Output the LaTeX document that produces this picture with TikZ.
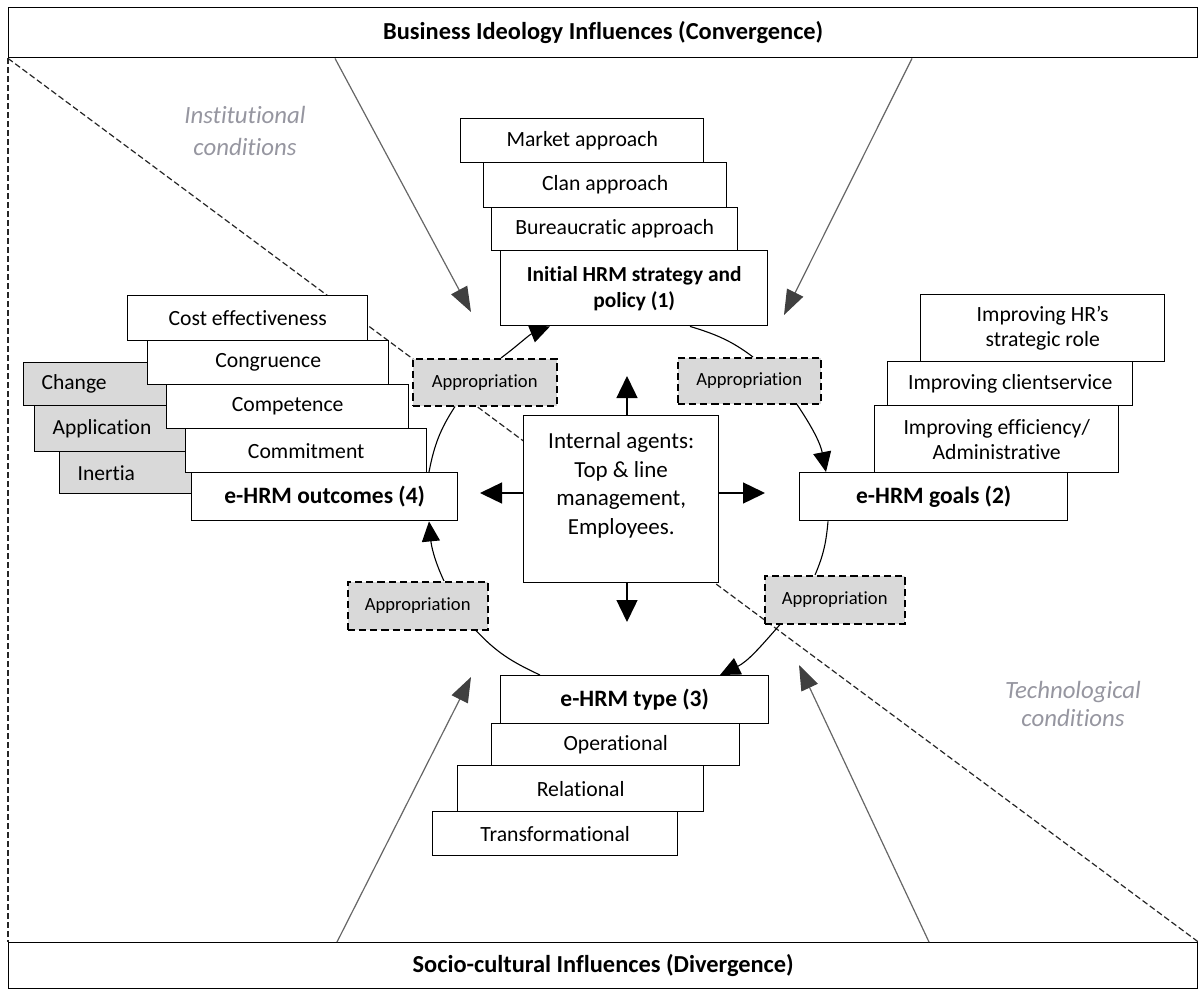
\documentclass[tikz,border=0pt]{standalone}
\usepackage{fontspec}
\setmainfont{Carlito}[Ligatures=NoCommon]
\usetikzlibrary{arrows.meta,calc}
\definecolor{boxgray}{RGB}{217,217,217}
\definecolor{labgray}{RGB}{150,150,160}
\begin{document}
\begin{tikzpicture}[x=0.5pt,y=-0.5pt,
  box/.style={draw, line width=0.7pt, fill=white, anchor=north west, align=center, inner sep=1pt, font=\fontsize{10.85}{12.5}\selectfont},
  hdr/.style={box, font=\bfseries\fontsize{11.75}{13.5}\selectfont},
  banner/.style={box, font=\bfseries\fontsize{12.2}{14}\selectfont},
  gbox/.style={draw, line width=0.7pt, fill=boxgray, anchor=north west, align=left, inner xsep=9pt, inner ysep=1pt, font=\fontsize{10.75}{12.5}\selectfont},
  appr/.style={draw, line width=0.75pt, dash pattern=on 3.6pt off 2pt, fill=boxgray, anchor=north west, inner sep=1pt, font=\fontsize{9.3}{11}\selectfont},
  cyc/.style={line width=0.55pt},
  cyca/.style={cyc, -{Triangle[length=10pt,width=9pt]}},
  iarr/.style={line width=0.7pt, -{Triangle[length=11pt,width=10.5pt]}},
  infl/.style={draw=black!60, line width=0.6pt, -{Triangle[length=12.5pt,width=9pt,color=black!75,fill=black!75]}},
  border/.style={draw=black!85, line width=0.6pt, dash pattern=on 3pt off 1.5pt},
  cond/.style={font=\itshape\fontsize{12.4}{16}\selectfont, text=labgray, align=center}
]
\useasboundingbox (0,0) rectangle (1198,990);

% banners
\node[banner, minimum width=594.5pt, minimum height=25pt] (top) at (8,7) {Business Ideology Influences (Convergence)};
\node[banner, minimum width=594.5pt, minimum height=23pt] (bot) at (8,942) {Socio-cultural Influences (Divergence)};

% dashed frame and diagonal
\draw[border] (top.south west) -- (bot.north west);
\draw[border] (top.south east) -- (bot.north east);
\draw[border] (top.south west) -- (bot.north east);

% condition labels
\node[cond] (inst) at (245,131) {Institutional\\conditions};
\node[cond, font=\itshape\fontsize{12.4}{14}\selectfont] (tech) at (1073,704) {Technological\\conditions};

% top stack
\node[box, minimum width=121.5pt, minimum height=22pt] (market) at (460,118) {Market approach};
\node[box, minimum width=121.5pt, minimum height=22.5pt] (clan) at (483,162) {Clan approach};
\node[box, minimum width=123pt, minimum height=21.5pt] (bureau) at (491,207) {Bureaucratic approach};
\node[hdr, minimum width=133.5pt, minimum height=37.5pt, font=\bfseries\fontsize{10.7}{13}\selectfont] (hrm) at (500,250) {Initial HRM strategy and\\policy (1)};

% right stack
\node[box, minimum width=122pt, minimum height=33.5pt] (g1) at (920,294) {Improving HR’s\\strategic role};
\node[box, minimum width=122.5pt, minimum height=22pt] (g2) at (887,361) {Improving clientservice};
\node[box, minimum width=122pt, minimum height=33.5pt] (g3) at (874,405) {Improving efficiency/\\Administrative};
\node[hdr, minimum width=134pt, minimum height=24pt] (goals) at (799,472) {e-HRM goals (2)};

% left stack: gray boxes behind
\node[gbox, minimum width=78.5pt, text width=60.5pt, minimum height=21.5pt] (change) at (23,362) {Change};
\node[gbox, minimum width=83pt, text width=65pt, minimum height=23pt] (appl) at (34,405) {Application};
\node[gbox, minimum width=80.5pt, text width=62.5pt, minimum height=21pt] (inertia) at (59,451) {Inertia};
\node[box, minimum width=120pt, minimum height=22.5pt] (cost) at (127,295) {Cost effectiveness};
\node[box, minimum width=120.5pt, minimum height=22pt] (congr) at (147,340) {Congruence};
\node[box, minimum width=121pt, minimum height=22pt] (compet) at (166,384) {Competence};
\node[box, minimum width=120.5pt, minimum height=22pt] (commit) at (185,428) {Commitment};
\node[hdr, minimum width=133pt, minimum height=24pt] (outc) at (191,472) {e-HRM outcomes (4)};

% bottom stack
\node[hdr, minimum width=134pt, minimum height=24pt] (type) at (500,675) {e-HRM type (3)};
\node[box, minimum width=124pt, minimum height=21pt] (oper) at (491,723) {Operational};
\node[box, minimum width=123pt, minimum height=23pt] (rel) at (457,765) {Relational};
\node[box, minimum width=122.5pt, minimum height=22pt] (trans) at (432,811) {Transformational};

% appropriation boxes
\node[appr, minimum width=72pt, minimum height=23.5pt] (aTL) at (412,358) {Appropriation};
\node[appr, minimum width=71.5pt, minimum height=23pt] (aTR) at (677,357) {Appropriation};
\node[appr, minimum width=70pt, minimum height=24pt] (aBL) at (347,581) {Appropriation};
\node[appr, minimum width=70pt, minimum height=24pt] (aBR) at (764,575) {Appropriation};

% internal agents
\node[box, minimum width=97.5pt, minimum height=83.5pt, text depth=15.75pt, font=\fontsize{11.5}{14.25}\selectfont] (agents) at (523,415) {Internal agents:\\Top \& line\\management,\\Employees.};

% cycle connectors
\draw[cyca] ($(aTL.north west)+(89,0)$) to[out=37,in=202] ($(hrm.south west)+(50,0)$);
\draw[cyc] ($(hrm.south west)+(190,0)$) to[out=-17,in=143] ($(aTR.north west)+(76,0)$);
\draw[cyca] ($(aTR.south west)+(120,0)$) to[out=-56,in=101] ($(goals.north west)+(27,0)$);
\draw[cyc] ($(goals.south west)+(29,0)$) to[out=265,in=67] ($(aBR.north west)+(51,0)$);
\draw[cyca] ($(aBR.south west)+(16,0)$) to[out=229,in=26] ($(type.north west)+(220,0)$);
\draw[cyc] ($(type.north west)+(40,0)$) to[out=155,in=313] ($(aBL.south west)+(129,0)$);
\draw[cyca] ($(aBL.north west)+(97,0)$) to[out=115,in=275.5] ($(outc.south west)+(238,0)$);
\draw[cyc] ($(outc.north west)+(238,0)$) to[out=79,in=237] ($(aTL.south west)+(43,0)$);

% arrows from internal agents
\coordinate (upTip) at (627,376);
\coordinate (dnTip) at (627,622);
\coordinate (ltTip) at (480,493);
\coordinate (rtTip) at (765,493);
\draw[iarr] ($(agents.north west)+(104,0)$) -- (upTip);
\draw[iarr] ($(agents.south west)+(104,0)$) -- (dnTip);
\draw[iarr] ($(agents.north west)+(0,78)$) -- (ltTip);
\draw[iarr] ($(agents.north east)+(0,78)$) -- (rtTip);

% influence arrows
\coordinate (i1) at (471,312);
\coordinate (i2) at (784,315);
\coordinate (i3) at (471,677);
\coordinate (i4) at (799,665);
\draw[infl] ($(top.south west)+(327,0)$) -- (i1);
\draw[infl] ($(top.south west)+(904,0)$) -- (i2);
\draw[infl] ($(bot.north west)+(329,0)$) -- (i3);
\draw[infl] ($(bot.north west)+(921,0)$) -- (i4);
\end{tikzpicture}
\end{document}
